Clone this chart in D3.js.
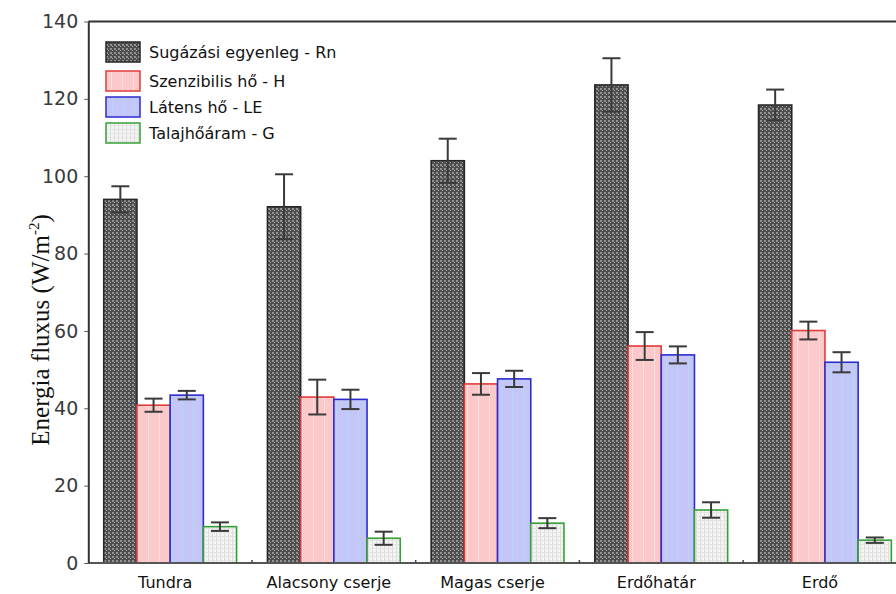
<!DOCTYPE html>
<html>
<head>
<meta charset="utf-8">
<script src="https://cdn.jsdelivr.net/npm/d3@7"></script>
<style>
  html, body { margin: 0; padding: 0; background: #fff; }
  svg { display: block; }
</style>
</head>
<body>
<svg id="chart" width="896" height="594"></svg>
<script>
// Energy balance components per vegetation zone (W/m²), mean ± error
const categories = ["Tundra", "Alacsony cserje", "Magas cserje", "Erdőhatár", "Erdő"];
const seriesKeys = ["Rn", "H", "LE", "G"];
const seriesNames = ["Sugázási egyenleg - Rn", "Szenzibilis hő - H", "Látens hő - LE", "Talajhőáram - G"];

const rnValues = [94.0, 92.1, 104.0, 123.6, 118.4];
const rnErrors = [3.4, 8.4, 5.7, 6.9, 4.0];
const hValues  = [40.8, 42.9, 46.3, 56.1, 60.1];
const hErrors  = [1.7, 4.5, 2.8, 3.6, 2.3];
const leValues = [43.4, 42.3, 47.6, 53.8, 51.9];
const leErrors = [1.1, 2.5, 2.1, 2.2, 2.6];
const gValues  = [9.4, 6.4, 10.3, 13.7, 5.9];
const gErrors  = [1.1, 1.7, 1.3, 2.0, 0.7];

const yTicks = [0, 20, 40, 60, 80, 100, 120, 140];

const valuesByKey = { Rn: rnValues, H: hValues, LE: leValues, G: gValues };
const errorsByKey = { Rn: rnErrors, H: hErrors, LE: leErrors, G: gErrors };

const svg = d3.select("#chart");

// plot frame
const plotLeft = 88.3, plotBottom = 563, plotTop = 21.5, bandW = 163.7;
const x = d3.scaleBand().domain(categories).range([plotLeft, plotLeft + bandW * categories.length]).padding(0);
const groupW = 132.8;
const xs = d3.scaleBand().domain(seriesKeys).range([(bandW - groupW) / 2, (bandW + groupW) / 2]).padding(0);
const y = d3.scaleLinear().domain([0, 140]).range([plotBottom, plotTop]);

// fill patterns
const defs = svg.append("defs");

const pRn = defs.append("pattern").attr("id", "pat-rn").attr("patternUnits", "userSpaceOnUse")
  .attr("width", 4).attr("height", 4);
pRn.append("rect").attr("width", 4).attr("height", 4).attr("fill", "#4e4e4e");
pRn.append("rect").attr("x", 0).attr("y", 0).attr("width", 2).attr("height", 2).attr("fill", "#929292");
pRn.append("rect").attr("x", 2).attr("y", 2).attr("width", 1).attr("height", 1).attr("fill", "#acacac");

const pH = defs.append("pattern").attr("id", "pat-h").attr("patternUnits", "userSpaceOnUse")
  .attr("width", 11).attr("height", 6);
pH.append("rect").attr("width", 11).attr("height", 6).attr("fill", "#fbc9c9");
pH.append("rect").attr("x", 5).attr("width", 1).attr("height", 6).attr("fill", "#fddede");

const pLE = defs.append("pattern").attr("id", "pat-le").attr("patternUnits", "userSpaceOnUse")
  .attr("width", 11).attr("height", 6);
pLE.append("rect").attr("width", 11).attr("height", 6).attr("fill", "#c4c6f8");
pLE.append("rect").attr("x", 6).attr("width", 1).attr("height", 6).attr("fill", "#b6d6f6");

const pG = defs.append("pattern").attr("id", "pat-g").attr("patternUnits", "userSpaceOnUse")
  .attr("width", 4).attr("height", 4);
pG.append("rect").attr("width", 4).attr("height", 4).attr("fill", "#f4f4f4");
pG.append("rect").attr("x", 0).attr("width", 1).attr("height", 4).attr("fill", "#dcdcdc");
pG.append("rect").attr("y", 0).attr("width", 4).attr("height", 1).attr("fill", "#e4e4e4");

const styles = {
  Rn: { fill: "url(#pat-rn)", stroke: "#262626" },
  H:  { fill: "url(#pat-h)",  stroke: "#e23a3a" },
  LE: { fill: "url(#pat-le)", stroke: "#2b2bd0" },
  G:  { fill: "url(#pat-g)",  stroke: "#35a035" }
};

// records
const records = [];
categories.forEach((c, i) => {
  seriesKeys.forEach(k => {
    records.push({ cat: c, key: k, value: valuesByKey[k][i], err: errorsByKey[k][i] });
  });
});

// bars
const bars = svg.append("g").attr("class", "bars");
bars.selectAll("rect").data(records).join("rect")
  .attr("x", d => x(d.cat) + xs(d.key))
  .attr("y", d => y(d.value))
  .attr("width", xs.bandwidth())
  .attr("height", d => y(0) - y(d.value))
  .attr("fill", d => styles[d.key].fill)
  .attr("stroke", d => styles[d.key].stroke)
  .attr("stroke-width", 1.6);

// error bars
const eb = svg.append("g").attr("class", "errors").attr("stroke", "#3a3a3a").attr("stroke-width", 2).attr("fill", "none");
const capW = 18;
records.forEach(d => {
  const cx = x(d.cat) + xs(d.key) + xs.bandwidth() / 2;
  const g = eb.append("g");
  g.append("line").attr("x1", cx).attr("x2", cx).attr("y1", y(d.value + d.err)).attr("y2", y(d.value - d.err));
  g.append("line").attr("x1", cx - capW / 2).attr("x2", cx + capW / 2).attr("y1", y(d.value + d.err)).attr("y2", y(d.value + d.err));
  g.append("line").attr("x1", cx - capW / 2).attr("x2", cx + capW / 2).attr("y1", y(d.value - d.err)).attr("y2", y(d.value - d.err));
});

// frame lines: top and bottom
svg.append("line").attr("x1", plotLeft).attr("x2", 896).attr("y1", plotTop).attr("y2", plotTop)
  .attr("stroke", "#333").attr("stroke-width", 2);
svg.append("line").attr("x1", plotLeft).attr("x2", 896).attr("y1", plotBottom).attr("y2", plotBottom)
  .attr("stroke", "#555").attr("stroke-width", 2);

// small separator ticks between categories on the bottom axis
svg.append("g").selectAll("line").data(categories.slice(1)).join("line")
  .attr("x1", d => x(d)).attr("x2", d => x(d))
  .attr("y1", plotBottom).attr("y2", plotBottom - 3)
  .attr("stroke", "#444").attr("stroke-width", 1.5);

// y axis
const yAxis = svg.append("g").attr("transform", `translate(${plotLeft},0)`)
  .call(d3.axisLeft(y).tickValues(yTicks).tickSize(4).tickPadding(6).tickSizeOuter(0));
yAxis.select(".domain").attr("stroke", "#333").attr("stroke-width", 2);
yAxis.selectAll(".tick line").attr("stroke", "#555").attr("stroke-width", 1);
yAxis.selectAll(".tick text")
  .attr("font-family", "'DejaVu Sans', sans-serif")
  .attr("font-size", 19)
  .attr("fill", "#3a3a3a");

// x labels
svg.append("g").selectAll("text").data(categories).join("text")
  .attr("x", d => x(d) + x.bandwidth() / 2 - 5)
  .attr("y", 588)
  .attr("text-anchor", "middle")
  .attr("font-family", "'DejaVu Sans', sans-serif")
  .attr("font-size", 16)
  .attr("fill", "#111")
  .text(d => d);

// y title
const yt = svg.append("text")
  .attr("transform", "translate(49,330) rotate(-90)")
  .attr("text-anchor", "middle")
  .attr("font-family", "'Liberation Serif', 'Times New Roman', serif")
  .attr("font-size", 25)
  .attr("fill", "#111");
yt.append("tspan").text("Energia fluxus (W/m");
yt.append("tspan").attr("font-size", 15).attr("dy", -10).text("-2");
yt.append("tspan").attr("dy", 10).text(")");

// legend
const legendY = [52, 81, 107, 133];
const legend = svg.append("g").attr("class", "legend");
const items = legend.selectAll("g").data(seriesKeys).join("g")
  .attr("transform", (d, i) => `translate(106,${legendY[i]})`);
items.append("rect")
  .attr("x", 0).attr("y", -10).attr("width", 34).attr("height", 20)
  .attr("fill", d => styles[d].fill)
  .attr("stroke", d => styles[d].stroke)
  .attr("stroke-width", 1.5);
items.append("text")
  .attr("x", 43).attr("y", 6)
  .attr("font-family", "'DejaVu Sans', sans-serif")
  .attr("font-size", 16)
  .attr("fill", "#111")
  .text((d, i) => seriesNames[i]);
</script>
</body>
</html>
